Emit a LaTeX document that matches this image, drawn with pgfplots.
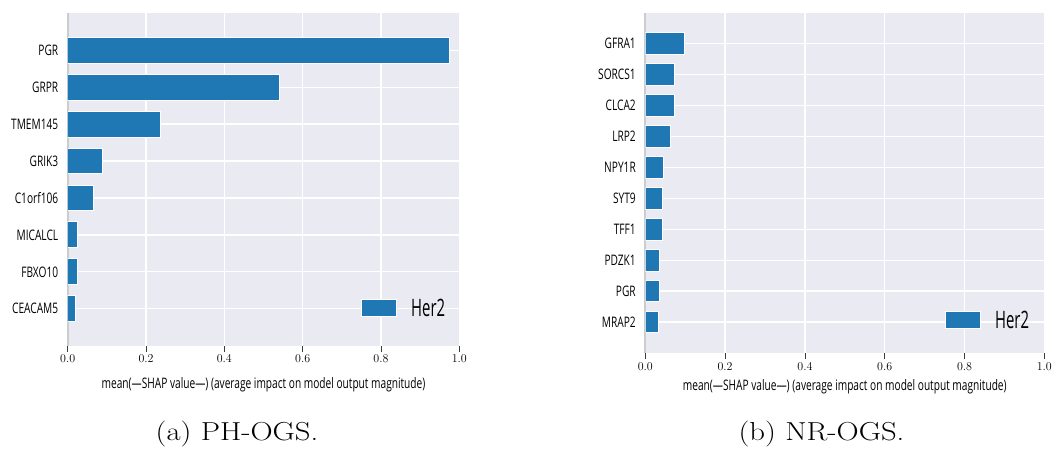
\documentclass[border=0pt]{standalone}
\usepackage{fontspec}
\usepackage{pgfplots}
\pgfplotsset{compat=1.18}
\newfontfamily\lab[FakeStretch=0.7]{Open Sans}
\newfontfamily\legfont[FakeStretch=0.62]{Open Sans}
\definecolor{bgc}{RGB}{234,234,242}
\definecolor{barc}{RGB}{31,119,180}
\definecolor{spine}{RGB}{204,204,204}
\definecolor{tickc}{RGB}{60,60,60}

\pgfplotsset{shapstyle/.style={
 scale only axis, xbar, bar width=0.7,
 xmin=0, xmax=1,
 axis background/.style={fill=bgc},
 axis x line*=bottom, axis y line*=left,
 x axis line style={draw=none},
 y axis line style={-, draw=spine, line width=1.8pt},
 grid=major, major grid style={white, line width=1.3pt},
 xtick={0,0.2,0.4,0.6,0.8,1.0},
 xticklabel style={font=\fontsize{12}{12}\selectfont, /pgf/number format/fixed, /pgf/number format/fixed zerofill, /pgf/number format/precision=1},
 xtick align=outside, xtick style={draw=tickc, line width=0.8pt},
 major tick length=6pt,
 ytick style={draw=none},
 yticklabel style={font=\lab\fontsize{14.5}{15}\selectfont},
 xlabel style={font=\lab\fontsize{14.5}{15}\selectfont, anchor=center},
 legend style={draw=none, fill=none, inner sep=0pt, column sep=12pt, font=\legfont\fontsize{24}{24}\selectfont},
 legend image code/.code={\draw[fill=barc, draw=white, line width=1pt] (0pt,-8.5pt) rectangle (35pt,8.5pt);},
}}

\begin{document}
\begin{tikzpicture}
\useasboundingbox (0,0) rectangle (1052pt,450pt);

\begin{axis}[shapstyle,
  at={(67.7pt,104.3pt)}, anchor=south west,
  width=391.6pt, height=332.4pt,
  ymin=-1, ymax=8,
  ytick={0,1,2,3,4,5,6,7},
  yticklabels={CEACAM5,FBXO10,MICALCL,C1orf106,GRIK3,TMEM145,GRPR,PGR},
  xlabel={mean(—SHAP value—) (average impact on model output magnitude)},
  xlabel style={at={(axis description cs:0.5,-0.118)}},
  legend style={at={(0.749,0.112)}, anchor=west},
]
\addplot[fill=barc, draw=white, line width=1pt] coordinates {(0.021,0) (0.026,1) (0.026,2) (0.067,3) (0.090,4) (0.237,5) (0.542,6) (0.974,7)};
\addlegendentry{Her2}
\end{axis}

\begin{axis}[shapstyle,
  at={(645.3pt,97pt)}, anchor=south west,
  width=399pt, height=340.3pt,
  ymin=-1, ymax=10,
  ytick={0,1,2,3,4,5,6,7,8,9},
  yticklabels={MRAP2,PGR,PDZK1,TFF1,SYT9,NPY1R,LRP2,CLCA2,SORCS1,GFRA1},
  xlabel={mean(—SHAP value—) (average impact on model output magnitude)},
  xlabel style={at={(axis description cs:0.5,-0.098)}},
  legend style={at={(0.751,0.096)}, anchor=west},
]
\addplot[fill=barc, draw=white, line width=1pt] coordinates {(0.033,0) (0.035,1) (0.036,2) (0.043,3) (0.044,4) (0.045,5) (0.062,6) (0.072,7) (0.074,8) (0.098,9)};
\addlegendentry{Her2}
\end{axis}

\node[font=\fontsize{26}{26}\selectfont, xscale=1.18] at (237pt,16pt) {(a) PH-OGS.};
\node[font=\fontsize{26}{26}\selectfont, xscale=1.18] at (821.5pt,16pt) {(b) NR-OGS.};
\end{tikzpicture}
\end{document}
